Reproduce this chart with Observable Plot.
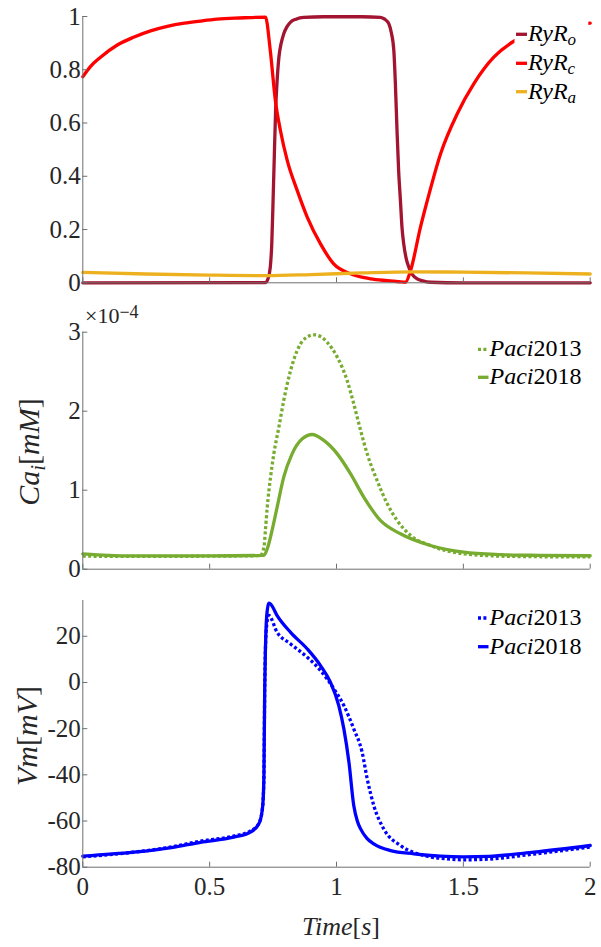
<!DOCTYPE html>
<html><head><meta charset="utf-8">
<script src="https://cdn.jsdelivr.net/npm/d3@7"></script>
<script src="https://cdn.jsdelivr.net/npm/@observablehq/plot@0.6"></script>
<style>
body{margin:0;background:#fff;}
#wrap{position:relative;width:601px;height:947px;overflow:hidden;background:#fff;}
#wrap > svg{position:absolute;left:0;}
</style></head><body><div id="wrap"></div>
<script>
// ---------- tick values ----------
const xTicks = [0, 0.5, 1, 1.5, 2];
const ryrTicks = [0, 0.2, 0.4, 0.6, 0.8, 1];
const caTicks = [0, 1, 2, 3];
const vmTicks = [-80, -60, -40, -20, 0, 20];

// ---------- panel 1: RyR states ----------
const ryrO_t = [0, 0.72, 0.73, 0.739, 0.745, 0.75, 0.755, 0.76, 0.766, 0.773, 0.782, 0.792, 0.805, 0.819, 0.84, 0.871, 0.95, 1.1, 1.173, 1.19, 1.206, 1.216, 1.226, 1.232, 1.239, 1.245, 1.252, 1.258, 1.265, 1.275, 1.285, 1.3, 1.318, 1.34, 1.37, 1.5, 2.0];
const ryrO_v = [0, 0.001, 0.015, 0.059, 0.15, 0.309, 0.48, 0.647, 0.76, 0.847, 0.9, 0.935, 0.962, 0.979, 0.99, 0.997, 0.999, 0.999, 0.997, 0.99, 0.973, 0.94, 0.872, 0.75, 0.56, 0.42, 0.309, 0.21, 0.146, 0.09, 0.059, 0.03, 0.015, 0.007, 0.002, 0, 0];

const ryrC_t = [0, 0.03, 0.07, 0.136, 0.2, 0.267, 0.333, 0.4, 0.464, 0.53, 0.6, 0.66, 0.72, 0.739, 0.759, 0.779, 0.806, 0.845, 0.885, 0.937, 0.989, 1.055, 1.134, 1.2, 1.245, 1.272, 1.292, 1.331, 1.358, 1.41, 1.476, 1.541, 1.62, 1.699, 1.8, 1.9, 2.0];
const ryrC_v = [0.774, 0.812, 0.847, 0.893, 0.922, 0.946, 0.963, 0.975, 0.983, 0.99, 0.994, 0.996, 0.998, 0.872, 0.685, 0.572, 0.459, 0.347, 0.246, 0.146, 0.071, 0.034, 0.015, 0.008, 0.004, 0.002, 0.046, 0.209, 0.309, 0.484, 0.635, 0.747, 0.847, 0.907, 0.945, 0.965, 0.975];

const ryrA_t = [0, 0.25, 0.5, 0.72, 0.9, 1.1, 1.3, 1.5, 1.75, 2.0];
const ryrA_v = [0.039, 0.033, 0.029, 0.027, 0.031, 0.037, 0.041, 0.040, 0.037, 0.033];

const ryrSubs = ["o", "c", "a"];

// ---------- panel 2: Ca_i (units of 1e-4 mM) ----------
const ca13_t = [0, 0.2, 0.5, 0.7, 0.714, 0.72, 0.727, 0.74, 0.753, 0.773, 0.792, 0.819, 0.851, 0.88, 0.911, 0.94, 0.963, 1.003, 1.042, 1.068, 1.095, 1.121, 1.16, 1.2, 1.239, 1.292, 1.37, 1.5, 1.65, 1.8, 2.0];
const ca13_v = [0.165, 0.162, 0.165, 0.172, 0.28, 0.5, 0.785, 1.165, 1.46, 1.80, 2.135, 2.515, 2.81, 2.93, 2.967, 2.94, 2.873, 2.684, 2.389, 2.094, 1.756, 1.46, 1.123, 0.828, 0.617, 0.427, 0.30, 0.195, 0.165, 0.158, 0.155];

const ca18_t = [0, 0.1, 0.2, 0.5, 0.714, 0.725, 0.733, 0.746, 0.766, 0.792, 0.825, 0.865, 0.904, 0.95, 1.003, 1.055, 1.108, 1.173, 1.252, 1.37, 1.502, 1.65, 1.8, 2.0];
const ca18_v = [0.195, 0.175, 0.168, 0.168, 0.175, 0.24, 0.32, 0.49, 0.785, 1.165, 1.46, 1.65, 1.705, 1.63, 1.46, 1.21, 0.91, 0.617, 0.448, 0.30, 0.215, 0.185, 0.175, 0.17];

// ---------- panel 3: Vm (mV) ----------
const vm13_t = [0, 0.201, 0.35, 0.464, 0.595, 0.661, 0.694, 0.707, 0.712, 0.714, 0.717, 0.72, 0.725, 0.733, 0.766, 0.819, 0.885, 0.937, 0.99, 1.029, 1.068, 1.101, 1.121, 1.147, 1.186, 1.252, 1.344, 1.436, 1.5, 1.6, 1.778, 2.0];
const vm13_v = [-75.5, -73.5, -71.2, -68.7, -66.5, -64.3, -61, -55.5, -48, -39.6, -3.5, 15, 25, 29, 21.7, 16.7, 10.9, 5.2, -2.8, -10, -20.1, -30.2, -41.7, -53.3, -63.4, -70.6, -74.9, -76.4, -76.8, -76.5, -74.3, -71.3];

const vm18_t = [0, 0.201, 0.35, 0.464, 0.595, 0.661, 0.694, 0.707, 0.712, 0.714, 0.717, 0.72, 0.723, 0.728, 0.733, 0.74, 0.766, 0.819, 0.885, 0.937, 0.976, 1.009, 1.029, 1.049, 1.068, 1.082, 1.095, 1.12, 1.147, 1.213, 1.305, 1.41, 1.5, 1.6, 1.778, 2.0];
const vm18_v = [-75.2, -73.5, -71.5, -69.2, -67, -64.8, -61.2, -55.5, -48, -39.6, -3.5, 15, 25.4, 32, 34.4, 34, 29, 21.7, 14.5, 7.3, 0.1, -10, -20.1, -34.5, -53.3, -60, -63.4, -67.5, -69.9, -72.8, -74.2, -75.2, -75.5, -75.3, -73.5, -70.6];

const seriesNames = ["Paci2013", "Paci2018"];

// ---------- styles ----------
const SERIF = `"Liberation Serif", "DejaVu Serif", serif`;
const C_O = "#A2142F", C_C = "#FF0000", C_A = "#EDB120", C_G = "#77AC30", C_B = "#0000FF";
const LW = 3.3, DASH = "3,2.4";
const AX = "#6e6e6e", TXT = "#262626";

const zip = (t, v) => t.map((x, i) => ({t: x, v: v[i]}));

function panel({top, height, mt, mb, yDomain, yTicks, showX, marks}) {
  const svg = Plot.plot({
    width: 601, height,
    marginLeft: 82.3, marginRight: 11.3, marginTop: mt, marginBottom: mb,
    style: {fontFamily: SERIF, fontSize: "25px", color: TXT, background: "transparent", overflow: "visible"},
    x: {domain: [0, 2]},
    y: {domain: yDomain},
    marks: [
      ...marks,
      Plot.ruleX([0], {stroke: AX, strokeWidth: 1}),
      Plot.ruleY([yDomain[0]], {stroke: AX, strokeWidth: 1}),
      Plot.axisX(xTicks, {tickSize: -5, tickPadding: 15, stroke: AX, fill: TXT, label: null,
        tickFormat: showX ? d => String(d) : () => ""}),
      Plot.axisY(yTicks, {tickSize: -5, tickPadding: 7, stroke: AX, fill: TXT, label: null,
        tickFormat: d => String(d)})
    ]
  });
  svg.style.top = top + "px";
  document.getElementById("wrap").appendChild(svg);
}

const line = (t, v, stroke, dash) => Plot.line(zip(t, v), {x: "t", y: "v", stroke, strokeWidth: LW, curve: "monotone-x", strokeDasharray: dash || null, strokeLinecap: dash ? "butt" : "round"});

panel({top: 0, height: 300, mt: 16, mb: 17.7, yDomain: [0, 1], yTicks: ryrTicks, showX: false,
  marks: [line(ryrO_t, ryrO_v, C_O), line(ryrC_t, ryrC_v, C_C), line(ryrA_t, ryrA_v, C_A)]});
panel({top: 300, height: 285, mt: 31.7, mb: 16.3, yDomain: [0, 3], yTicks: caTicks, showX: false,
  marks: [line(ca13_t, ca13_v, C_G, DASH), line(ca18_t, ca18_v, C_G)]});
panel({top: 585, height: 362, mt: 15, mb: 80.3, yDomain: [-80, 35.5], yTicks: vmTicks, showX: true,
  marks: [line(vm13_t, vm13_v, C_B, DASH), line(vm18_t, vm18_v, C_B)]});

// ---------- overlay: legends and labels ----------
const ov = d3.select("#wrap").append("svg").attr("width", 601).attr("height", 947)
  .style("top", "0px").style("pointer-events", "none")
  .style("font-family", SERIF);

function addText(x, y, parts, size, fill, extra) {
  const t = ov.append("text").attr("x", x).attr("y", y).attr("font-size", size).attr("fill", fill);
  if (extra) extra(t);
  parts.forEach(p => {
    const s = t.append("tspan").attr("font-style", p.i ? "italic" : "normal").text(p.s);
    if (p.size) s.attr("font-size", p.size);
    if (p.dy) s.attr("dy", p.dy);
  });
  return t;
}
function sample(x0, x1, y, color, dash) {
  ov.append("line").attr("x1", x0).attr("x2", x1).attr("y1", y).attr("y2", y)
    .attr("stroke", color).attr("stroke-width", LW).attr("stroke-dasharray", dash || null);
}

// panel 1 legend (opaque box)
ov.append("rect").attr("x", 514.5).attr("y", 18).attr("width", 73.8).attr("height", 92).attr("fill", "#fff");
const ryrColors = [C_O, C_C, C_A];
const ryrRows = [[34.3, 41], [63.3, 70], [91.7, 99]];
ryrSubs.forEach((s, i) => {
  sample(516, 527, ryrRows[i][0], ryrColors[i]);
  addText(528, ryrRows[i][1], [{s: "RyR", i: true}, {s: s, i: true, size: 17, dy: 4}], 24, "#000");
});

function paciLegend(rows, color) {
  seriesNames.forEach((n, i) => {
    sample(478, 488.5, rows[i][0], color, i === 0 ? DASH : null);
    addText(489.5, rows[i][1], [{s: n.slice(0, 4), i: true}, {s: n.slice(4)}], 24, "#000");
  });
}
paciLegend([[349.3, 355.5], [377.3, 384]], C_G);
paciLegend([[618, 624.5], [646.7, 653.5]], C_B);

// exponent label
addText(85, 323.3, [{s: "×10"}, {s: "−4", size: 18, dy: -5}], 22, TXT);

// axis labels
addText(0, 0, [{s: "Ca", i: true}, {s: "i", i: true, size: 21, dy: 6}, {s: "[", dy: -6}, {s: "mM", i: true}, {s: "]"}], 30, TXT,
  t => t.attr("text-anchor", "middle").attr("transform", "translate(39,452) rotate(-90)"));
addText(0, 0, [{s: "Vm", i: true}, {s: "["}, {s: "mV", i: true}, {s: "]"}], 30, TXT,
  t => t.attr("text-anchor", "middle").attr("transform", "translate(37,736) rotate(-90)"));
addText(341, 935, [{s: "Time", i: true}, {s: "["}, {s: "s", i: true}, {s: "]"}], 26, TXT,
  t => t.attr("text-anchor", "middle"));
</script>
</body></html>
